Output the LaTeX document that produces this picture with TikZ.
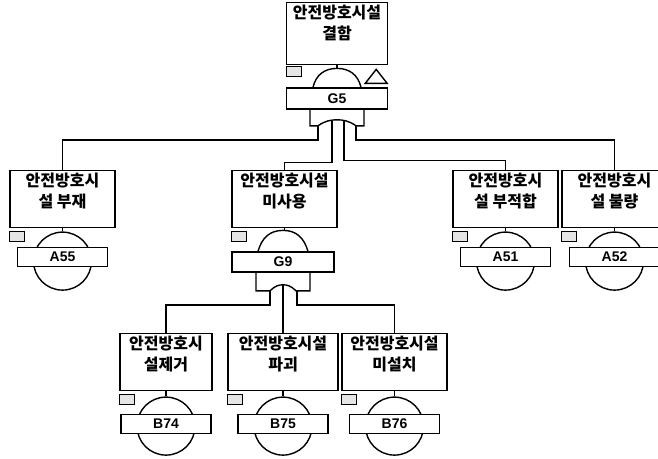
\documentclass[tikz,border=0pt]{standalone}
\usepackage{fontspec}
\setmainfont{Liberation Sans}
\newfontfamily\krfont{Noto Sans CJK KR}
\usetikzlibrary{positioning, calc}

\begin{document}
\begin{tikzpicture}[
  x=1pt, y=-1pt,
  line width=1.4pt,
  evbox/.style={rectangle, draw, minimum width=105pt, minimum height=57pt,
    anchor=north, inner sep=0pt},
  evtext/.style={align=center, inner sep=0pt,
    font=\krfont\bfseries\fontsize{16}{21}\selectfont},
  idbox/.style={rectangle, draw, fill=white, minimum width=#1, minimum height=19pt,
    inner sep=0pt, font=\bfseries\fontsize{14}{14}\selectfont},
  idbox/.default=90pt,
  tagbox/.style={rectangle, draw, fill=black!10, minimum width=15pt,
    minimum height=10pt, inner sep=0pt, line width=1pt},
  basic/.style={circle, draw, minimum size=58pt, inner sep=0pt}
]
\path[use as bounding box] (0,0) rectangle (658,458);
\clip (0,0) rectangle (658,458);

% ===== TOP EVENT: G5 =====
\node[evbox, minimum width=101pt, minimum height=62pt] (topev) at (337,2) {};
\node[evtext, below=2pt of topev.north] (topevtxt) {안전방호시설\\결함};
\node[tagbox, below=1pt of topev.south west, anchor=north west] (topevtag) {};
\node[idbox=101pt, minimum height=21pt, below=22pt of topev.south] (g5) {G5};
% gate top + transfer
\coordinate (g5dome) at ($(g5.north)+(0,-19)$);
\draw (topev.south) -- (g5dome);
\draw ($(g5.north)+(-24,0)$) .. controls +(3,-13) and +(-12,0) .. (g5dome)
  .. controls +(12,0) and +(-3,-13) .. ($(g5.north)+(24,0)$);
\draw ($(g5.north east)+(-23,-4)$) -- ($(g5.north east)+(-1,-4)$)
  -- ($(g5.north east)+(-12,-18)$) -- cycle;
% gate bottom
\begin{scope}[shift={(g5.south)}]
  \draw (-27,0) -- (-27,16) -- (-19,16) .. controls (-12,11) and (-6,10) .. (0,10)
    .. controls (6,10) and (12,11) .. (19,16) -- (27,16) -- (27,0);
  \coordinate (g5l1) at (-19,16);
  \coordinate (g5l2) at (-5,10.5);
  \coordinate (g5l3) at (7,10.5);
  \coordinate (g5l4) at (19,16);
\end{scope}

% ===== SECOND ROW =====
\node[evbox] (absent) at (62.5,170) {};
\node[evbox] (nonuse) at (284.5,170) {};
\node[evbox] (unfit) at (505.5,170) {};
\node[evbox] (faulty) at (614.5,170) {};
\node[evtext, below=2pt of absent.north] (absenttxt) {안전방호시\\설 부재};
\node[evtext, below=2pt of nonuse.north] (nonusetxt) {안전방호시설\\미사용};
\node[evtext, below=2pt of unfit.north] (unfittxt) {안전방호시\\설 부적합};
\node[evtext, below=2pt of faulty.north] (faultytxt) {안전방호시\\설 불량};
\draw (g5l1) -- ++(0,14) -| (absent.north);
\draw (g5l2) -- ++(0,42) -| (nonuse.north);
\draw (g5l3) -- ++(0,40) -| (unfit.north);
\draw (g5l4) -- ++(0,14) -| (faulty.north);

% basic events A55, A51, A52
\node[tagbox, below=3pt of absent.south west, anchor=north west] (absenttag) {};
\node[basic, below=3pt of absent.south] (a55c) {};
\node[idbox] (a55) at ([yshift=4pt]a55c.center) {A55};
\draw (absent.south) -- (a55c.north);
\node[tagbox, below=3pt of unfit.south west, anchor=north west] (unfittag) {};
\node[basic, below=3pt of unfit.south] (a51c) {};
\node[idbox] (a51) at ([yshift=4pt]a51c.center) {A51};
\draw (unfit.south) -- (a51c.north);
\node[tagbox, below=3pt of faulty.south west, anchor=north west] (faultytag) {};
\node[basic, below=3pt of faulty.south] (a52c) {};
\node[idbox] (a52) at ([yshift=4pt]a52c.center) {A52};
\draw (faulty.south) -- (a52c.north);

% ===== GATE G9 =====
\node[tagbox, below=3pt of nonuse.south west, anchor=north west] (nonusetag) {};
\node[idbox=102pt, minimum height=20pt, below=23pt of nonuse.south, xshift=-1.5pt] (g9) {G9};
\coordinate (g9dome) at ($(g9.north)+(0,-21)$);
\draw (nonuse.south) -- (nonuse.south |- g9dome);
\draw ($(g9.north)+(-25,0)$) .. controls +(4,-14) and +(-13,0) .. (g9dome)
  .. controls +(13,0) and +(-4,-14) .. ($(g9.north)+(25,0)$);
\begin{scope}[shift={(g9.south)}]
  \draw (-27,0) -- (-27,18) -- (-13,18) .. controls (-8,13) and (-4,12) .. (0,12)
    .. controls (4,12) and (8,13) .. (13,18) -- (27,18) -- (27,0);
  \coordinate (g9l1) at (-13,18);
  \coordinate (g9l2) at (0,12);
  \coordinate (g9l3) at (14,18);
\end{scope}

% ===== THIRD ROW =====
\node[evbox, minimum width=92pt] (removed) at (166,333) {};
\node[evbox, minimum width=110pt] (broken) at (283,333) {};
\node[evbox] (uninst) at (394.5,333) {};
\node[evtext, below=2pt of removed.north] (removedtxt) {안전방호시\\설제거};
\node[evtext, below=2pt of broken.north] (brokentxt) {안전방호시설\\파괴};
\node[evtext, below=2pt of uninst.north] (uninsttxt) {안전방호시설\\미설치};
\draw (g9l1) -- ++(0,14) -| (removed.north);
\draw (g9l2) -- (g9l2 |- broken.north);
\draw (g9l3) -- ++(0,14) -| (uninst.north);

% basic events B74, B75, B76
\node[tagbox, below=3pt of removed.south west, anchor=north west] (removedtag) {};
\node[basic, below=5pt of removed.south] (b74c) {};
\node[idbox] (b74) at ([yshift=2pt]b74c.center) {B74};
\draw (removed.south) -- (b74c.north);
\node[tagbox, below=3pt of broken.south west, anchor=north west] (brokentag) {};
\node[basic, below=5pt of broken.south] (b75c) {};
\node[idbox] (b75) at ([yshift=2pt]b75c.center) {B75};
\draw (broken.south) -- (b75c.north);
\node[tagbox, below=3pt of uninst.south west, anchor=north west] (uninsttag) {};
\node[basic, below=5pt of uninst.south] (b76c) {};
\node[idbox] (b76) at ([yshift=2pt]b76c.center) {B76};
\draw (uninst.south) -- (b76c.north);
\end{tikzpicture}
\end{document}
